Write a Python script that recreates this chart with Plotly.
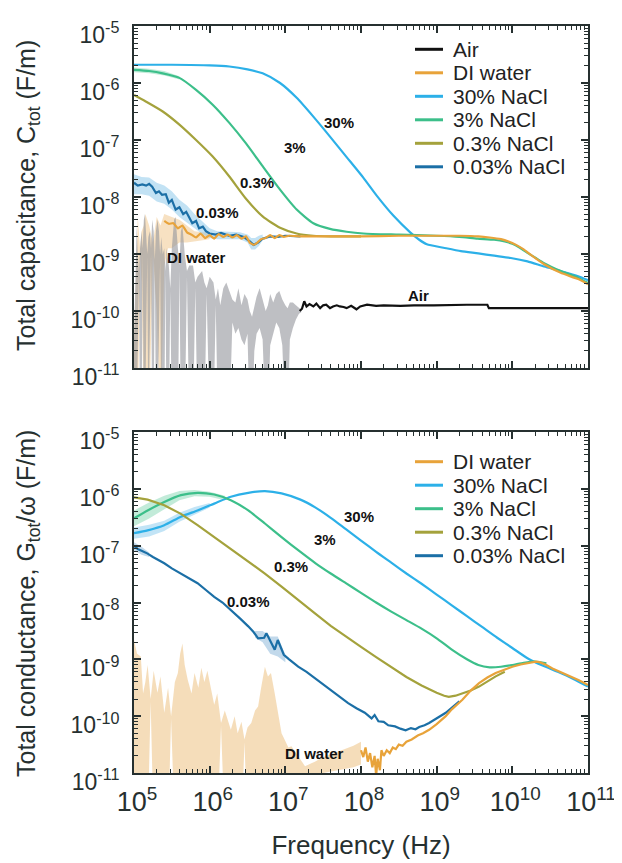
import numpy as np
import plotly.graph_objects as go

# ---------------- DATA (log10 of frequency in Hz, log10 of value in F/m) ----------------
# ---- Top panel: total capacitance ----
cap_30_f = [5.0, 5.5, 6.0, 6.26, 6.5, 6.7, 6.93, 7.15, 7.37, 7.59, 7.81, 8.03, 8.21, 8.43, 8.65, 8.77, 8.87,
            9.09, 9.32, 9.55, 9.76, 9.98, 10.2, 10.42, 10.64, 10.87, 11.0]
cap_30_v = [-5.68, -5.68, -5.69, -5.71, -5.76, -5.83, -6.0, -6.26, -6.59, -6.94, -7.30, -7.66, -7.98, -8.33, -8.62,
            -8.75, -8.83, -8.89, -8.95, -8.99, -9.03, -9.07, -9.13, -9.22, -9.30, -9.39, -9.46]

cap_3_f = [5.0, 5.2, 5.38, 5.6, 5.82, 6.04, 6.26, 6.48, 6.7, 6.93, 7.15, 7.37, 7.59, 7.81, 8.03, 8.5, 9.0,
           9.3, 9.54, 9.76, 9.9, 10.0, 10.1, 10.2, 10.31, 10.42, 10.64, 10.87, 11.0]
cap_3_v = [-5.77, -5.79, -5.83, -5.91, -6.12, -6.38, -6.70, -7.06, -7.46, -7.87, -8.22, -8.46, -8.56, -8.61, -8.64,
           -8.66, -8.68, -8.70, -8.73, -8.75, -8.78, -8.82, -8.89, -8.98, -9.07, -9.16, -9.30, -9.42, -9.51]

cap_03_f = [5.0, 5.15, 5.38, 5.6, 5.82, 6.04, 6.26, 6.48, 6.7, 6.93, 7.15, 7.37, 7.6, 8.0]
cap_03_v = [-6.21, -6.32, -6.50, -6.73, -7.0, -7.29, -7.64, -8.03, -8.34, -8.54, -8.64, -8.68, -8.69, -8.69]

cap_003_f = [5.0, 5.05, 5.11, 5.16, 5.2, 5.24, 5.29, 5.33, 5.37, 5.42, 5.46, 5.5, 5.55, 5.6, 5.65, 5.69,
             5.73, 5.77, 5.82, 5.86, 5.91, 5.95, 6.0, 6.08, 6.15, 6.26, 6.35, 6.45, 6.53, 6.58, 6.64, 6.7, 6.8, 6.9, 7.0, 7.2]
cap_003_v = [-7.75, -7.80, -7.78, -7.80, -7.77, -7.82, -7.93, -7.90, -7.96, -7.95, -8.10, -8.05, -8.22, -8.18, -8.30,
             -8.26, -8.36, -8.46, -8.42, -8.55, -8.52, -8.60, -8.64, -8.66, -8.63, -8.68, -8.66, -8.70, -8.78, -8.84,
             -8.80, -8.73, -8.69, -8.70, -8.68, -8.69]

cap_di_f = [5.40, 5.46, 5.52, 5.58, 5.64, 5.70, 5.76, 5.82, 5.88, 5.94, 6.0, 6.06, 6.12, 6.18, 6.24, 6.30, 6.36,
            6.42, 6.48, 6.53, 6.58, 6.63, 6.68, 6.74, 6.80, 6.86, 6.92, 6.98, 7.05, 7.2, 7.5, 8.0, 8.5, 9.0,
            9.3, 9.55, 9.7, 9.85, 9.95, 10.05, 10.15, 10.25, 10.42, 10.64, 10.87, 11.0]
cap_di_v = [-8.42, -8.47, -8.46, -8.55, -8.50, -8.62, -8.66, -8.71, -8.64, -8.72, -8.67, -8.73, -8.65, -8.70, -8.66,
            -8.71, -8.67, -8.73, -8.69, -8.80, -8.84, -8.80, -8.74, -8.72, -8.67, -8.72, -8.67, -8.70, -8.68,
            -8.69, -8.69, -8.69, -8.68, -8.68, -8.68, -8.69, -8.71, -8.74, -8.78, -8.84, -8.92, -9.02, -9.18,
            -9.33, -9.44, -9.53]

cap_air_f = [7.19, 7.22, 7.25, 7.28, 7.32, 7.37, 7.41, 7.46, 7.50, 7.54, 7.59, 7.63, 7.68, 7.72, 7.77, 7.81, 7.87,
             7.94, 7.99, 8.08, 8.2, 8.3, 8.52, 8.7, 8.96, 9.2, 9.4, 9.67, 9.69, 10.0, 10.5, 11.0]
cap_air_v = [-10.0, -9.96, -9.83, -9.92, -9.88, -9.92, -9.87, -9.95, -9.90, -9.89, -9.95, -9.92, -9.90, -9.92,
             -9.93, -9.95, -9.91, -9.97, -9.92, -9.89, -9.91, -9.90, -9.91, -9.90, -9.90, -9.89, -9.89, -9.89,
             -9.95, -9.95, -9.95, -9.95]

# uncertainty bands (top)
cap_air_band_f = [5.00, 5.02, 5.035, 5.05, 5.065, 5.08, 5.10, 5.115, 5.13, 5.145, 5.16, 5.175, 5.19, 5.21, 5.225,
                  5.24, 5.26, 5.275, 5.29, 5.31, 5.33, 5.345, 5.36, 5.38, 5.40, 5.415, 5.43, 5.46, 5.48, 5.50,
                  5.53, 5.55, 5.58, 5.60, 5.62, 5.64, 5.67, 5.70, 5.73, 5.78, 5.81, 5.84, 5.90, 5.93, 5.96, 6.00,
                  6.05, 6.08, 6.11, 6.14, 6.18, 6.22, 6.26, 6.30, 6.34, 6.38, 6.42, 6.46, 6.50, 6.53, 6.56, 6.59,
                  6.62, 6.66, 6.70, 6.74, 6.77, 6.80, 6.84, 6.88, 6.92, 6.96, 7.00, 7.03, 7.06, 7.10, 7.14, 7.18, 7.21]
cap_air_band_hi = [-10.5, -9.0, -8.5, -9.0, -9.3, -8.9, -8.6, -8.9, -8.4, -8.3, -8.8, -9.0, -8.7, -8.6, -8.9,
                   -8.4, -8.6, -9.1, -8.6, -8.4, -8.6, -9.0, -8.7, -9.0, -8.9, -9.3, -8.9, -9.2, -9.6, -8.9,
                   -8.4, -8.35, -8.9, -9.2, -8.6, -8.5, -9.0, -9.3, -9.2, -9.2, -9.5, -9.4, -9.3, -9.5, -9.6, -9.4,
                   -9.5, -9.8, -9.6, -9.9, -9.6, -9.5, -9.65, -9.8, -9.85, -9.6, -9.9, -9.7, -9.8, -10.0, -10.1, -9.9,
                   -9.75, -9.6, -9.8, -10.0, -9.9, -9.7, -9.85, -9.7, -9.65, -9.8, -9.9, -9.95, -9.85, -9.85, -9.9,
                   -9.95, -9.98]
cap_air_band_lo = [-12, -12, -12, -12, -9.35, -12, -12, -9.0, -12, -12, -12, -9.05, -12, -12, -9.0,
                   -12, -12, -9.15, -12, -12, -12, -9.1, -12, -12, -12, -9.35, -12, -12, -9.65, -12,
                   -12, -12, -12, -9.3, -12, -12, -12, -9.4, -12, -12, -9.6, -12, -12, -12, -9.7, -12,
                   -12, -9.9, -12, -12, -12, -12, -12, -10.2, -10.4, -10.3, -10.5, -10.6, -10.4, -12, -12, -10.7,
                   -10.4, -10.3, -10.5, -12, -12, -10.6, -10.4, -10.2, -10.3, -10.6, -12, -12, -10.5, -10.3, -10.15,
                   -10.05, -10.02]

cap_di_band_f = [5.0, 5.03, 5.05, 5.08, 5.1, 5.13, 5.15, 5.2, 5.25, 5.3, 5.35, 5.4, 5.45, 5.5, 5.6, 5.7, 5.8, 5.9, 6.0]
cap_di_band_hi = [-10.5, -9.0, -8.35, -8.9, -8.6, -8.5, -8.3, -8.5, -8.8, -8.35, -8.5, -8.3, -8.32, -8.35,
                  -8.4, -8.5, -8.6, -8.62, -8.62]
cap_di_band_lo = [-12, -12, -12, -9.0, -9.5, -12, -12, -12, -9.0, -10.0, -12, -9.2, -8.9, -8.9, -8.8, -8.8,
                  -8.78, -8.76, -8.74]

cap_003_band_f = [5.0, 5.1, 5.2, 5.3, 5.4, 5.5, 5.6, 5.7, 5.8, 5.9, 6.0, 6.1, 6.4, 6.5, 6.55, 6.6, 6.65, 6.7]
cap_003_band_hi = [-7.6, -7.65, -7.66, -7.75, -7.8, -7.9, -8.05, -8.15, -8.3, -8.42, -8.55, -8.6, -8.62, -8.66,
                   -8.72, -8.72, -8.68, -8.66]
cap_003_band_lo = [-7.95, -7.95, -7.98, -8.08, -8.12, -8.22, -8.35, -8.45, -8.55, -8.65, -8.72, -8.74, -8.74,
                   -8.8, -8.92, -8.92, -8.86, -8.76]

cap_3_band_f = [5.0, 5.2, 5.4, 5.6]
cap_3_band_hi = [-5.73, -5.75, -5.79, -5.88]
cap_3_band_lo = [-5.81, -5.83, -5.87, -5.94]

# ---- Bottom panel: total conductance / omega ----
con_30_f = [5.0, 5.18, 5.40, 5.62, 5.84, 6.06, 6.28, 6.51, 6.73, 6.95, 7.2, 7.4, 7.6, 7.8, 8.0, 8.2, 8.4, 8.6,
            8.8, 9.0, 9.2, 9.4, 9.6, 9.8, 10.0, 10.2, 10.4, 10.6, 10.8, 11.0]
con_30_v = [-6.78, -6.73, -6.64, -6.49, -6.38, -6.26, -6.14, -6.07, -6.04, -6.08, -6.19, -6.33, -6.51, -6.71,
            -6.91, -7.11, -7.30, -7.49, -7.67, -7.86, -8.05, -8.24, -8.43, -8.62, -8.80, -8.98, -9.11, -9.22,
            -9.34, -9.48]

con_3_f = [5.0, 5.18, 5.40, 5.62, 5.84, 6.06, 6.28, 6.51, 6.73, 6.95, 7.2, 7.4, 7.6, 7.8, 8.0, 8.2, 8.4, 8.6,
           8.8, 9.0, 9.2, 9.4, 9.55, 9.7, 9.85, 10.0, 10.15, 10.3, 10.45]
con_3_v = [-6.52, -6.38, -6.23, -6.11, -6.07, -6.10, -6.20, -6.38, -6.61, -6.85, -7.11, -7.31, -7.49, -7.66,
           -7.83, -8.0, -8.16, -8.31, -8.46, -8.63, -8.83, -9.0, -9.10, -9.14, -9.13, -9.10, -9.06, -9.04, -9.07]

con_03_f = [5.0, 5.18, 5.40, 5.62, 5.84, 6.06, 6.28, 6.51, 6.73, 6.95, 7.17, 7.4, 7.6, 7.8, 8.0, 8.2, 8.4,
            8.6, 8.8, 9.0, 9.1, 9.16, 9.25, 9.34, 9.45, 9.56, 9.67, 9.78, 9.9]
con_03_v = [-6.15, -6.19, -6.29, -6.44, -6.64, -6.85, -7.05, -7.28, -7.49, -7.72, -7.96, -8.20, -8.41, -8.60,
            -8.78, -8.96, -9.14, -9.31, -9.46, -9.59, -9.64, -9.66, -9.64, -9.60, -9.55, -9.48, -9.39, -9.30, -9.22]

con_003_f = [5.0, 5.05, 5.10, 5.18, 5.25, 5.32, 5.40, 5.50, 5.62, 5.72, 5.84, 5.95, 6.06, 6.17, 6.28, 6.40, 6.51,
             6.58, 6.64, 6.72, 6.75, 6.80, 6.86, 6.90, 6.94, 6.98, 7.05, 7.17, 7.28, 7.39, 7.50, 7.61, 7.72, 7.83,
             7.94, 8.05, 8.14, 8.18, 8.23, 8.30, 8.36, 8.45, 8.52, 8.59, 8.66, 8.72, 8.77, 8.84, 8.90, 9.0, 9.12, 9.3]
con_003_v = [-7.0, -7.06, -7.09, -7.14, -7.2, -7.25, -7.31, -7.40, -7.49, -7.56, -7.66, -7.78, -7.90, -8.0, -8.13,
             -8.28, -8.42, -8.52, -8.63, -8.62, -8.54, -8.68, -8.83, -8.66, -8.80, -8.92, -9.0, -9.13, -9.22, -9.33,
             -9.44, -9.56, -9.66, -9.77, -9.86, -9.94, -10.04, -9.98, -10.09, -10.1, -10.16, -10.18, -10.22, -10.25,
             -10.21, -10.23, -10.19, -10.16, -10.12, -10.04, -9.94, -9.74]

con_di_f = [8.0, 8.03, 8.06, 8.09, 8.12, 8.15, 8.18, 8.20, 8.22, 8.25, 8.27, 8.30, 8.34, 8.38, 8.42, 8.46, 8.50,
            8.55, 8.60, 8.67, 8.75, 8.82, 8.90, 9.0, 9.12, 9.2, 9.34, 9.45, 9.56, 9.67, 9.78, 9.89, 10.0, 10.11,
            10.22, 10.31, 10.36, 10.45, 10.53, 10.65, 10.76, 10.88, 11.0]
con_di_v = [-10.6, -10.72, -10.55, -10.8, -10.65, -10.9, -10.7, -11.05, -10.75, -10.95, -10.6, -10.7, -10.6,
            -10.65, -10.55, -10.58, -10.5, -10.52, -10.45, -10.41, -10.34, -10.3, -10.24, -10.14, -10.0, -9.88,
            -9.71, -9.55, -9.42, -9.32, -9.24, -9.18, -9.13, -9.09, -9.06, -9.04, -9.05, -9.1, -9.16, -9.23,
            -9.30, -9.37, -9.45]

# uncertainty bands (bottom)
con_di_band_f = [5.00, 5.04, 5.09, 5.12, 5.15, 5.18, 5.22, 5.26, 5.31, 5.35, 5.40, 5.45, 5.49, 5.54, 5.58, 5.61,
                 5.64, 5.67, 5.71, 5.76, 5.80, 5.85, 5.89, 5.93, 5.97, 6.02, 6.06, 6.10, 6.15, 6.20, 6.28, 6.33,
                 6.37, 6.42, 6.46, 6.50, 6.55, 6.60, 6.64, 6.68, 6.73, 6.77, 6.81, 6.86, 6.90, 6.95, 6.99, 7.04,
                 7.08, 7.17, 7.26, 7.39, 7.5, 7.7, 7.9, 8.0]
con_di_band_hi = [-8.66, -8.9, -8.95, -9.6, -9.4, -9.1, -9.7, -9.2, -9.59, -9.3, -9.94, -9.5, -10.0, -9.4, -9.24,
                  -8.9, -8.72, -9.1, -9.36, -9.6, -9.24, -9.5, -9.15, -9.4, -9.2, -9.5, -9.8, -9.6, -10.12, -9.9,
                  -10.24, -10.0, -10.3, -10.1, -10.41, -10.2, -10.12, -9.9, -9.83, -9.5, -9.13, -9.3, -9.24, -9.6,
                  -9.94, -10.3, -10.41, -10.55, -10.53, -10.7, -10.88, -10.8, -10.72, -10.62, -10.52, -10.45]
con_di_band_lo = [-12, -12, -12, -12, -12, -12, -9.75, -12, -12, -12, -12, -12, -10.05, -12, -12, -12, -12,
                  -12, -12, -12, -12, -12, -12, -12, -12, -12, -12, -12, -10.17, -12, -12, -12, -12,
                  -12, -10.46, -12, -12, -12, -12, -12, -12, -12, -12, -12, -12, -12, -12, -12,
                  -12, -12, -12, -11.1, -11.0, -10.95, -10.9, -10.85]

con_30_band_f = [5.0, 5.2, 5.4, 5.6, 5.8, 6.0]
con_30_band_hi = [-6.68, -6.63, -6.56, -6.42, -6.32, -6.25]
con_30_band_lo = [-6.88, -6.84, -6.74, -6.58, -6.45, -6.33]

con_3_band_f = [5.0, 5.2, 5.4, 5.6, 5.8, 6.0, 6.2]
con_3_band_hi = [-6.38, -6.24, -6.12, -6.04, -6.02, -6.05, -6.12]
con_3_band_lo = [-6.66, -6.52, -6.36, -6.2, -6.13, -6.14, -6.2]

con_003_band_a_f = [5.0, 5.1, 5.2]
con_003_band_a_hi = [-6.94, -7.02, -7.12]
con_003_band_a_lo = [-7.08, -7.16, -7.2]
con_003_band_b_f = [6.6, 6.7, 6.8, 6.9, 7.0]
con_003_band_b_hi = [-8.5, -8.5, -8.6, -8.6, -8.92]
con_003_band_b_lo = [-8.62, -8.7, -8.9, -8.95, -9.05]

x_tick_vals = [1e5, 1e6, 1e7, 1e8, 1e9, 1e10, 1e11]
x_tick_text = ["10<sup>5</sup>", "10<sup>6</sup>", "10<sup>7</sup>", "10<sup>8</sup>", "10<sup>9</sup>",
               "10<sup>10</sup>", "10<sup>11</sup>"]
y_tick_vals = [1e-11, 1e-10, 1e-9, 1e-8, 1e-7, 1e-6, 1e-5]
y_tick_text = ["10<sup>-11</sup>", "10<sup>-10</sup>", "10<sup>-9</sup>", "10<sup>-8</sup>", "10<sup>-7</sup>",
               "10<sup>-6</sup>", "10<sup>-5</sup>"]

legend_top = ["Air", "DI water", "30% NaCl", "3% NaCl", "0.3% NaCl", "0.03% NaCl"]
legend_bot = ["DI water", "30% NaCl", "3% NaCl", "0.3% NaCl", "0.03% NaCl"]

# ---------------- STYLE ----------------
C_AIR = "#111111"
C_DI = "#E8A33A"
C_30 = "#2CB0E8"
C_3 = "#3CBF8A"
C_03 = "#A4A23C"
C_003 = "#1B6FA6"
COLORS = {"Air": C_AIR, "DI water": C_DI, "30% NaCl": C_30, "3% NaCl": C_3, "0.3% NaCl": C_03,
          "0.03% NaCl": C_003}
FONT = "Liberation Sans, Arial, Helvetica, sans-serif"
AX = "#263030"

# The page body has an 8px margin, so the figure is drawn 8px right/down of the window origin.
OFF = 8
W, H = 622 - OFF, 863 - OFF
ML, MR, MT, MB = 134 - OFF, 34, 26 - OFF, 90
PW, PH = W - ML - MR, H - MT - MB


def px2paper(px, py):
    """window pixel -> paper coordinate"""
    return (px - OFF - ML) / PW, (H - MB - (py - OFF)) / PH


def p(a):
    return 10 ** np.asarray(a, dtype=float)


fig = go.Figure()


def band(fl, hi, lo, color, xa, ya):
    xs = np.concatenate([p(fl), p(fl)[::-1]])
    ys = np.concatenate([p(hi), p(lo)[::-1]])
    fig.add_trace(go.Scatter(x=xs, y=ys, fill="toself", fillcolor=color, line=dict(width=0),
                             mode="lines", hoverinfo="skip", showlegend=False, xaxis=xa, yaxis=ya))


def line(fl, v, name, xa, ya, shape="linear", sm=0.6):
    fig.add_trace(go.Scatter(x=p(fl), y=p(v), mode="lines", name=name,
                             line=dict(color=COLORS[name], width=2.2, shape=shape, smoothing=sm),
                             showlegend=False, xaxis=xa, yaxis=ya))


# top bands
band(cap_di_band_f, cap_di_band_hi, cap_di_band_lo, "rgba(232,170,80,0.35)", "x", "y")
band(cap_air_band_f, cap_air_band_hi, cap_air_band_lo, "rgba(150,152,158,0.62)", "x", "y")
band(cap_003_band_f, cap_003_band_hi, cap_003_band_lo, "rgba(120,190,230,0.45)", "x", "y")
band(cap_3_band_f, cap_3_band_hi, cap_3_band_lo, "rgba(120,210,170,0.45)", "x", "y")

# top lines
line(cap_30_f, cap_30_v, "30% NaCl", "x", "y", shape="spline")
line(cap_3_f, cap_3_v, "3% NaCl", "x", "y", shape="spline")
line(cap_03_f, cap_03_v, "0.3% NaCl", "x", "y", shape="spline")
line(cap_003_f, cap_003_v, "0.03% NaCl", "x", "y")
line(cap_di_f, cap_di_v, "DI water", "x", "y", shape="spline", sm=0.4)
line(cap_air_f, cap_air_v, "Air", "x", "y")

# bottom bands
band(con_di_band_f, con_di_band_hi, con_di_band_lo, "rgba(232,175,90,0.42)", "x2", "y2")
band(con_30_band_f, con_30_band_hi, con_30_band_lo, "rgba(120,195,235,0.45)", "x2", "y2")
band(con_3_band_f, con_3_band_hi, con_3_band_lo, "rgba(120,210,170,0.45)", "x2", "y2")
band(con_003_band_a_f, con_003_band_a_hi, con_003_band_a_lo, "rgba(120,170,210,0.45)", "x2", "y2")
band(con_003_band_b_f, con_003_band_b_hi, con_003_band_b_lo, "rgba(120,170,210,0.45)", "x2", "y2")

# bottom lines
line(con_30_f, con_30_v, "30% NaCl", "x2", "y2", shape="spline")
line(con_3_f, con_3_v, "3% NaCl", "x2", "y2", shape="spline")
line(con_03_f, con_03_v, "0.3% NaCl", "x2", "y2")
line(con_003_f, con_003_v, "0.03% NaCl", "x2", "y2")
line(con_di_f, con_di_v, "DI water", "x2", "y2")

axis_common = dict(type="log", showline=True, linewidth=2, linecolor=AX, mirror="allticks",
                   ticks="inside", ticklen=7, tickwidth=1.5, tickcolor=AX, showgrid=False, zeroline=False,
                   automargin=False,
                   minor=dict(ticks="inside", ticklen=4, tickwidth=1, tickcolor=AX, dtick="D1", showgrid=False))
xfont = dict(family=FONT, size=27, color="#263030")
yfont = dict(family=FONT, size=23, color="#263030")

top_dom = [(H - MB - (368 - OFF)) / PH, 1]
bot_dom = [0, (H - MB - (432 - OFF)) / PH]

fig.update_layout(
    width=W, height=H,
    margin=dict(l=ML, r=MR, t=MT, b=MB),
    paper_bgcolor="white", plot_bgcolor="white",
    font=dict(family=FONT, color="#222"),
    showlegend=False,
    xaxis=dict(axis_common, domain=[0, 1], anchor="y", range=[5, 11],
               tickvals=x_tick_vals, ticktext=x_tick_text, showticklabels=False),
    yaxis=dict(axis_common, domain=top_dom, anchor="x", range=[-11, -5],
               tickvals=y_tick_vals, ticktext=y_tick_text, tickfont=yfont, ticklabelstandoff=8,
               ticklabelshift=9),
    xaxis2=dict(axis_common, domain=[0, 1], anchor="y2", range=[5, 11],
                tickvals=x_tick_vals, ticktext=x_tick_text, tickfont=xfont, ticklabelstandoff=4,
                ticklabelshift=3,
                title=dict(text="Frequency (Hz)", font=dict(family=FONT, size=26, color="#263030"), standoff=19)),
    yaxis2=dict(axis_common, domain=bot_dom, anchor="x2", range=[-11, -5],
                tickvals=y_tick_vals, ticktext=y_tick_text, tickfont=yfont, ticklabelstandoff=8,
                ticklabelshift=9),
)

# y-axis titles
title_font = dict(family=FONT, size=25, color="#263030")
tx, ty = px2paper(28, 196)
fig.add_annotation(x=tx, y=ty, xref="paper", yref="paper", text="Total capacitance, C<sub>tot</sub> (F/m)",
                   textangle=-90, showarrow=False, xanchor="center", yanchor="middle", font=title_font)
tx, ty = px2paper(28, 604)
fig.add_annotation(x=tx, y=ty, xref="paper", yref="paper", text="Total conductance, G<sub>tot</sub>/ω (F/m)",
                   textangle=-90, showarrow=False, xanchor="center", yanchor="middle", font=title_font)

# legends (drawn as line samples + text)
leg_font = dict(family=FONT, size=21, color="#222")
for names, y0 in ((legend_top, 49.3), (legend_bot, 461.7)):
    for i, nm in enumerate(names):
        yy = y0 + i * 23.5
        x0p, yp = px2paper(415, yy)
        x1p, _ = px2paper(443, yy)
        fig.add_shape(type="line", xref="paper", yref="paper", x0=x0p, x1=x1p, y0=yp, y1=yp,
                      line=dict(color=COLORS[nm], width=3))
        xt, _ = px2paper(451, yy)
        fig.add_annotation(x=xt, y=yp, xref="paper", yref="paper", text=nm, showarrow=False,
                           xanchor="left", yanchor="middle", font=leg_font)

ann_font = dict(family=FONT, size=15, color="#111")
labels_top = [("30%", 7.71, -6.69), ("3%", 7.13, -7.14), ("0.3%", 6.62, -7.74), ("0.03%", 6.10, -8.28),
              ("DI water", 5.82, -9.07), ("Air", 8.76, -9.73)]
labels_bot = [("30%", 7.98, -6.48), ("3%", 7.52, -6.90), ("0.3%", 7.08, -7.37), ("0.03%", 6.51, -7.99),
              ("DI water", 7.39, -10.65)]
for t, xl, yl in labels_top:
    fig.add_annotation(x=xl, y=yl, xref="x", yref="y", text="<b>%s</b>" % t, showarrow=False, font=ann_font)
for t, xl, yl in labels_bot:
    fig.add_annotation(x=xl, y=yl, xref="x2", yref="y2", text="<b>%s</b>" % t, showarrow=False, font=ann_font)

fig.write_html("out.html")
